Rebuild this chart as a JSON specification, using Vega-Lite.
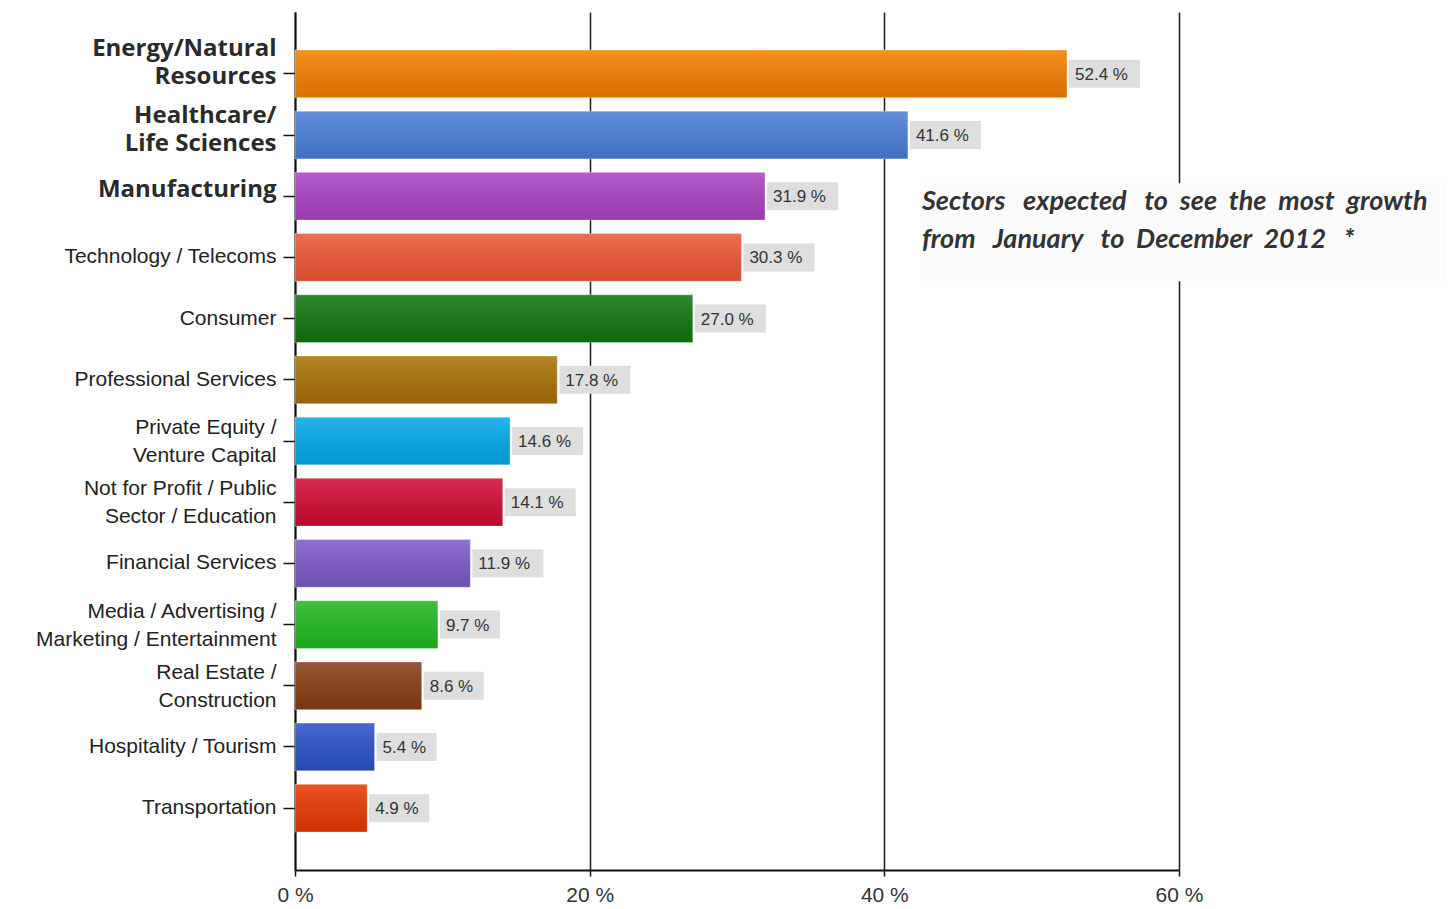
{
  "$schema": "https://vega.github.io/schema/vega-lite/v6.json",
  "width": 884,
  "height": 858,
  "autosize": "none",
  "padding": {"left": 295, "top": 12, "right": 270, "bottom": 39},
  "background": "white",
  "config": {"view": {"stroke": null}},
  "data": {"values": [
    {"sector": "Energy/Natural\nResources", "value": 52.4},
    {"sector": "Healthcare/\nLife Sciences", "value": 41.6},
    {"sector": "Manufacturing", "value": 31.9},
    {"sector": "Technology / Telecoms", "value": 30.3},
    {"sector": "Consumer", "value": 27.0},
    {"sector": "Professional Services", "value": 17.8},
    {"sector": "Private Equity /\nVenture Capital", "value": 14.6},
    {"sector": "Not for Profit / Public\nSector / Education", "value": 14.1},
    {"sector": "Financial Services", "value": 11.9},
    {"sector": "Media / Advertising /\nMarketing / Entertainment", "value": 9.7},
    {"sector": "Real Estate /\nConstruction", "value": 8.6},
    {"sector": "Hospitality / Tourism", "value": 5.4},
    {"sector": "Transportation", "value": 4.9}
  ]},
  "encoding": {
    "y": {
      "field": "sector", "type": "nominal", "sort": null,
      "scale": {"paddingInner": 0.22, "paddingOuter": 0.62},
      "axis": {
        "title": null,
        "domainColor": "#111", "domainWidth": 2,
        "tickColor": "#111", "tickWidth": 1.5, "tickSize": 12,
        "labelPadding": 7,
        "labelExpr": "split(datum.label, '\\n')",
        "labelFont": {"condition": {"test": "datum.index < 0.2", "value": "Open Sans"}, "value": "Liberation Sans"},
        "labelFontSize": {"condition": {"test": "datum.index < 0.2", "value": 24}, "value": 21},
        "labelFontWeight": {"condition": {"test": "datum.index < 0.2", "value": "bold"}, "value": "normal"},
        "labelColor": {"condition": {"test": "datum.index < 0.2", "value": "#2a2a2a"}, "value": "#222"},
        "labelOffset": {"condition": [
          {"test": "datum.index < 0.04", "value": -25},
          {"test": "datum.index < 0.1", "value": -19},
          {"test": "datum.index < 0.2", "value": -6},
          {"test": "indexof(datum.value, '\\n') >= 0", "value": -13}
        ], "value": 0},
        "labelLineHeight": 28,
        "labelLimit": 300
      }
    },
    "x": {
      "field": "value", "type": "quantitative",
      "scale": {"domain": [0, 60], "nice": false},
      "axis": {
        "title": null,
        "values": [0, 20, 40, 60],
        "labelExpr": "datum.value + ' %'",
        "labelFont": "Liberation Sans", "labelFontSize": 21, "labelColor": "#333",
        "labelPadding": 8, "labelFlush": false,
        "domainColor": "#111", "domainWidth": 2,
        "tickColor": "#111", "tickSize": 6, "tickWidth": 1.5,
        "grid": true, "gridColor": "#1a1a1a", "gridWidth": 1.5
      }
    }
  },
  "layer": [
    {
      "mark": {"type": "bar"},
      "encoding": {
        "color": {
          "field": "sector", "type": "nominal", "sort": null, "legend": null,
          "scale": {"range": ["#F47E00", "#4A7DD6", "#A842C2", "#EE5535", "#0F7610", "#A87004", "#02A9E8", "#D00A32", "#7D58C8", "#20B820", "#883C16", "#2C50C8", "#E83800"]}
        }
      }
    },
    {
      "mark": {"type": "bar", "fill": {"gradient": "linear", "x1": 0, "y1": 0, "x2": 0, "y2": 1, "stops": [{"offset": 0, "color": "rgba(255,255,255,0.14)"}, {"offset": 1, "color": "rgba(0,0,0,0.10)"}]}, "stroke": "rgba(255,255,255,0.35)", "strokeWidth": 1}
    },
    {
      "mark": {"type": "bar", "color": "#dedede", "height": 28, "xOffset": 2, "x2Offset": {"expr": "datum.value < 10 ? 62 : 73"}},
      "encoding": {"x2": {"field": "value"}}
    },
    {
      "mark": {"type": "text", "align": "left", "baseline": "middle", "dx": 8, "dy": 1, "font": "Liberation Sans", "fontSize": 17, "color": "#333", "text": {"expr": "format(datum.value, '.1f') + ' %'"}}
    },
    {
      "transform": [{"filter": "datum.sector == 'Manufacturing'"}],
      "mark": {"type": "rect", "color": "#fbfbfb", "yOffset": 11},
      "encoding": {
        "x": {"datum": 42.4},
        "x2": {"datum": 78.1},
        "y": {"datum": "Manufacturing", "bandPosition": 0},
        "y2": {"datum": "Technology / Telecoms", "bandPosition": 1}
      }
    },
    {
      "transform": [{"filter": "datum.sector == 'Manufacturing'"}],
      "mark": {"type": "text", "align": "left", "baseline": "alphabetic", "dy": 14, "lineHeight": 38, "font": "Lato", "fontSize": 27, "fontStyle": "italic", "fontWeight": "bold", "color": "#333",
        "text": ["Sectors\u00a0\u00a0 expected\u00a0\u00a0 to\u00a0 see\u00a0 the\u00a0 most\u00a0 growth", "from\u00a0\u00a0 January\u00a0\u00a0 to\u00a0 December\u00a0 2012\u00a0\u00a0 *"]},
      "encoding": {
        "x": {"datum": 42.55},
        "y": {"field": "sector"}
      }
    }
  ]
}
